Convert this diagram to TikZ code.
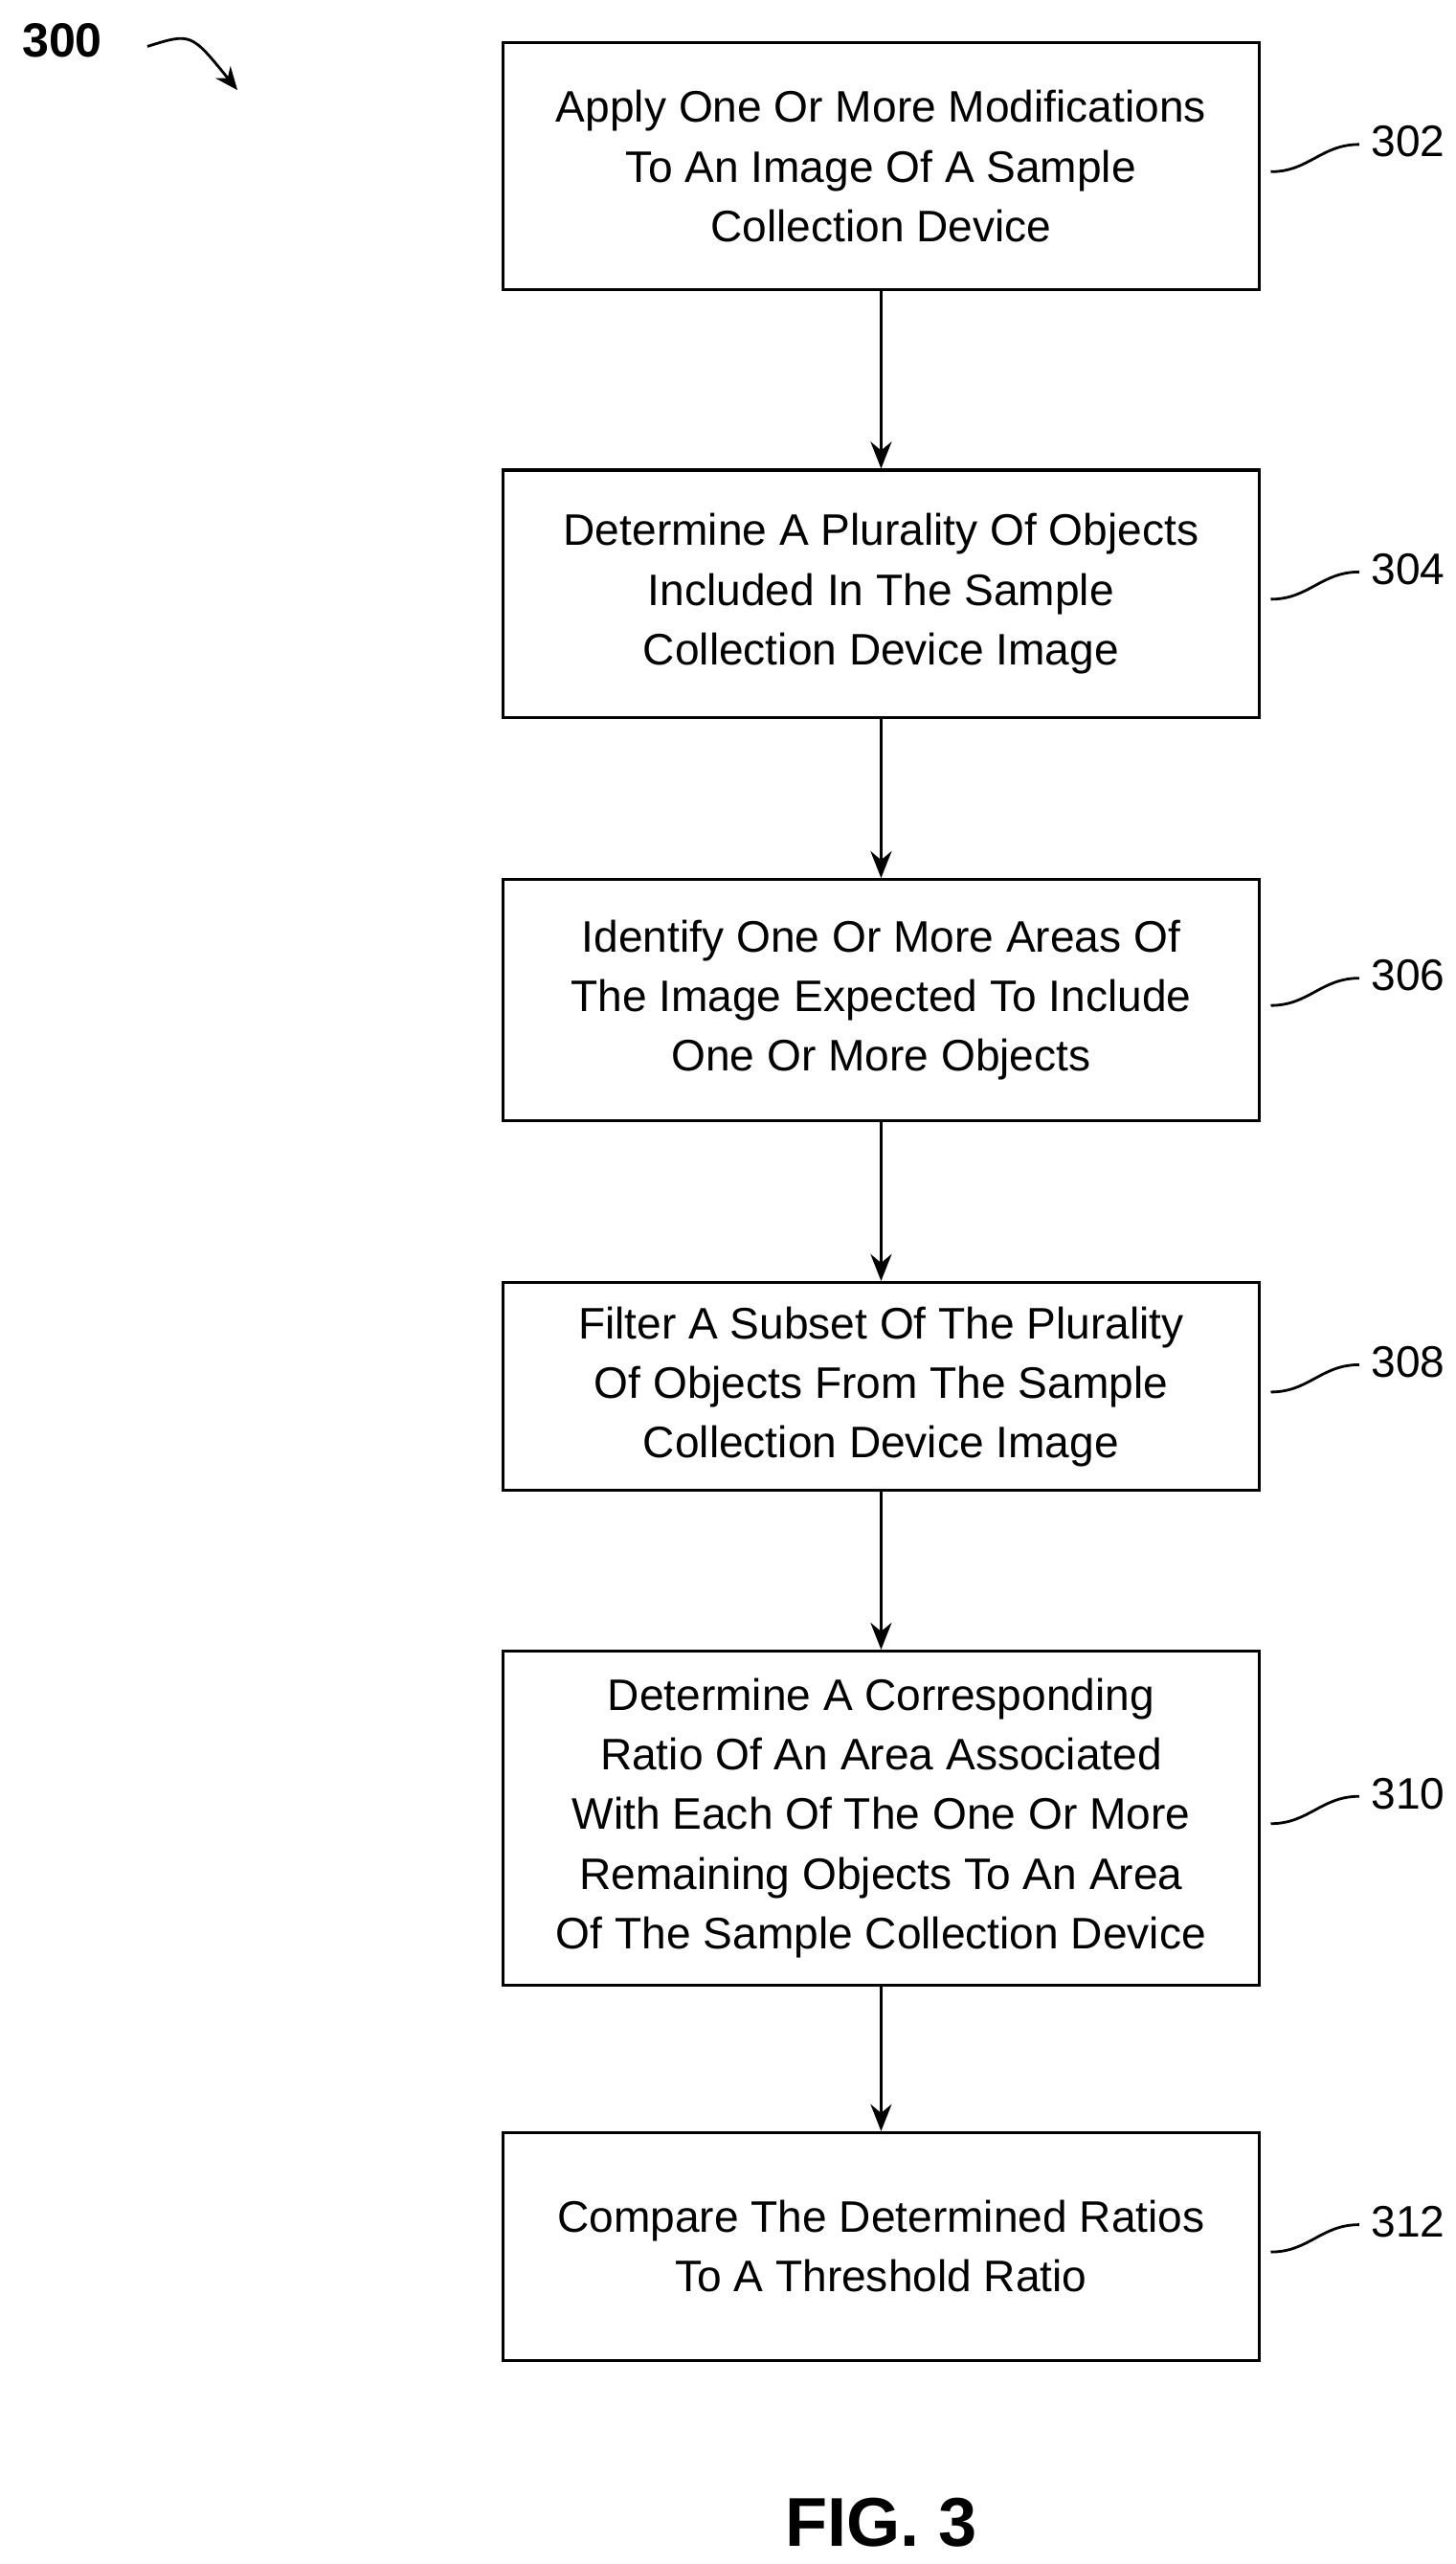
\documentclass[tikz,border=0pt]{standalone}
\usepackage{fontspec}
\setmainfont{Liberation Sans}
\usetikzlibrary{positioning,arrows.meta}
\tikzset{
  procbox/.style={draw, line width=1.6pt, minimum width=13.86cm, align=center,
    font=\fontsize{23}{31}\selectfont},
  flow/.style={line width=1.6pt, -{Stealth[length=14pt,width=11pt]}},
  refnum/.style={font=\fontsize{23}{28}\selectfont, anchor=west},
  squig/.style={line width=1.4pt}
}
\begin{document}
\begin{tikzpicture}

    % Frame
    \useasboundingbox (0,0) rectangle (26.67,-46.96);

    % Figure number
    \node[font=\bfseries\fontsize{25}{30}\selectfont] (fignum) at (1.14,-0.75) {300};
    \coordinate (figtail) at (2.7,-0.85);
    \coordinate (figtip) at (4.35,-1.65);
    \draw[line width=1.4pt, -{Stealth[length=12pt,width=10pt]}] (figtail) .. controls (3.5,-0.6) .. (figtip);

    % Steps
    \node[procbox, minimum height=4.53cm] (s302) at (16.14,-3.045)
        {Apply One Or More Modifications\\To An Image Of A Sample\\Collection Device};
    \node[procbox, minimum height=4.53cm] (s304) at (16.14,-10.875)
        {Determine A Plurality Of Objects\\Included In The Sample\\Collection Device Image};
    \node[procbox, minimum height=4.41cm] (s306) at (16.14,-18.315)
        {Identify One Or More Areas Of\\The Image Expected To Include\\One Or More Objects};
    \node[procbox, minimum height=3.81cm] (s308) at (16.14,-25.395)
        {Filter A Subset Of The Plurality\\Of Objects From The Sample\\Collection Device Image};
    \node[procbox, minimum height=6.12cm] (s310) at (16.14,-33.3)
        {Determine A Corresponding\\Ratio Of An Area Associated\\With Each Of The One Or More\\Remaining Objects To An Area\\Of The Sample Collection Device};
    \node[procbox, minimum height=4.17cm] (s312) at (16.14,-41.145)
        {Compare The Determined Ratios\\To A Threshold Ratio};

    % Connectors
    \foreach \a/\b in {s302/s304, s304/s306, s306/s308, s308/s310, s310/s312}
        \draw[flow] (\a.south) -- (\b.north);

    % Reference numbers
    \foreach \s in {302,304,306,308,310,312} {
        \node[refnum] (r\s) at ([xshift=1.9cm,yshift=0.45cm]s\s.east) {\s};
        \draw[squig] ([xshift=0.18cm,yshift=-0.1cm]s\s.east)
            .. controls +(0.7,0) and +(-0.7,0) .. ([xshift=-0.1cm,yshift=-0.05cm]r\s.west);
    }

    % Caption
    \node[font=\bfseries\fontsize{36}{40}\selectfont] (caption) at (16.14,-46.2) {FIG. 3};

\end{tikzpicture}
\end{document}
